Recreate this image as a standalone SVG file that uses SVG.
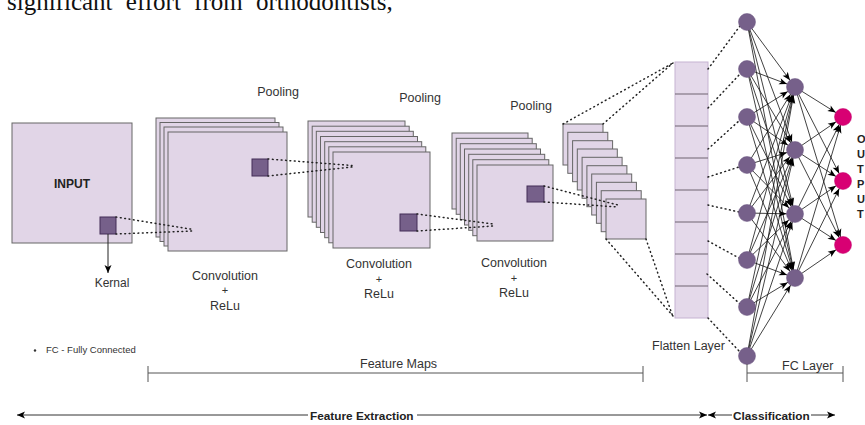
<svg xmlns="http://www.w3.org/2000/svg" width="865" height="425" viewBox="0 0 865 425">
<style>
.map{fill:#e1d5e7;stroke:#666;stroke-width:1}
.ker{fill:#76608a;stroke:#432d57;stroke-width:1}
.dot{fill:none;stroke:#222;stroke-width:1.5;stroke-dasharray:0.8 3.6;stroke-linecap:round}
.fc{fill:none;stroke:#111;stroke-width:0.8}
.nd{fill:#76608a;stroke:#6a5580;stroke-width:0.5}
.out{fill:#d80073;stroke:#c0006a;stroke-width:0.5}
.lbl{font-family:"Liberation Sans",Arial,sans-serif;fill:#333}
.bold{font-family:"Liberation Sans",Arial,sans-serif;font-weight:bold;fill:#222}
.brk{fill:none;stroke:#555;stroke-width:1}
</style>
<defs>
<marker id="fcArrow" markerUnits="userSpaceOnUse" viewBox="-20 -5 20 10" refX="0" refY="0" markerWidth="20" markerHeight="10" orient="auto">
<path d="M-16.5,-3.2 L-8.5,0 L-16.5,3.2 L-14.5,0 z" fill="#000"/>
</marker>
<marker id="arr" markerUnits="userSpaceOnUse" viewBox="-9 -5 10 10" refX="0" refY="0" markerWidth="10" markerHeight="10" orient="auto">
<path d="M-8,-3.5 L0,0 L-8,3.5 L-6,0 z" fill="#000"/>
</marker>
<marker id="arrS" markerUnits="userSpaceOnUse" viewBox="-1 -5 10 10" refX="0" refY="0" markerWidth="10" markerHeight="10" orient="auto">
<path d="M8,-3.5 L0,0 L8,3.5 L6,0 z" fill="#000"/>
</marker>
</defs>
<rect width="865" height="425" fill="#fff"/>
<text x="7" y="9.5" font-family="'Liberation Serif','Times New Roman',serif" font-size="25" fill="#111" word-spacing="7">significant effort from orthodontists,</text>

<g id="input">
<rect class="map" x="12" y="123" width="120" height="120"/>
<text class="bold" x="72" y="187.5" font-size="12" text-anchor="middle">INPUT</text>
<rect class="ker" x="100" y="217" width="16" height="17"/>
</g>
<g id="kernel-label">
<text class="lbl" x="112" y="287" font-size="12" text-anchor="middle">Kernal</text>
</g>

<g id="conv1">
<rect class="map" x="156" y="118" width="119" height="119"/>
<rect class="map" x="160" y="122.5" width="119" height="119"/>
<rect class="map" x="164" y="127" width="119" height="119"/>
<rect class="map" x="168" y="132" width="119" height="119"/>
<rect class="ker" x="252" y="159" width="16" height="17"/>
<text class="lbl" x="225" y="279.5" font-size="12.5" text-anchor="middle">Convolution</text>
<text class="lbl" x="225" y="294" font-size="11" text-anchor="middle">+</text>
<text class="lbl" x="225" y="309.5" font-size="12.5" text-anchor="middle">ReLu</text>
<text class="lbl" x="278" y="96" font-size="12.5" text-anchor="middle">Pooling</text>
</g>

<g id="conv2">
<rect class="map" x="308" y="121" width="97" height="96"/>
<rect class="map" x="312.2" y="126.2" width="97" height="96"/>
<rect class="map" x="316.3" y="131.3" width="97" height="96"/>
<rect class="map" x="320.5" y="136.5" width="97" height="96"/>
<rect class="map" x="324.7" y="141.7" width="97" height="96"/>
<rect class="map" x="328.8" y="146.8" width="97" height="96"/>
<rect class="map" x="333" y="152" width="97" height="96"/>
<rect class="ker" x="400" y="214" width="17" height="17"/>
<text class="lbl" x="379" y="268" font-size="12.5" text-anchor="middle">Convolution</text>
<text class="lbl" x="379" y="283" font-size="11" text-anchor="middle">+</text>
<text class="lbl" x="379" y="298" font-size="12.5" text-anchor="middle">ReLu</text>
<text class="lbl" x="420" y="102" font-size="12.5" text-anchor="middle">Pooling</text>
</g>

<g id="conv3">
<rect class="map" x="452" y="133" width="76" height="76"/>
<rect class="map" x="456.2" y="138.3" width="76" height="76"/>
<rect class="map" x="460.3" y="143.7" width="76" height="76"/>
<rect class="map" x="464.5" y="149" width="76" height="76"/>
<rect class="map" x="468.7" y="154.3" width="76" height="76"/>
<rect class="map" x="472.8" y="159.7" width="76" height="76"/>
<rect class="map" x="477" y="165" width="76" height="76"/>
<rect class="ker" x="527" y="186" width="17" height="16"/>
<text class="lbl" x="514" y="267" font-size="12.5" text-anchor="middle">Convolution</text>
<text class="lbl" x="514" y="282" font-size="11" text-anchor="middle">+</text>
<text class="lbl" x="514" y="297" font-size="12.5" text-anchor="middle">ReLu</text>
<text class="lbl" x="531" y="110" font-size="12.5" text-anchor="middle">Pooling</text>
</g>

<g id="pool">
<rect class="map" x="563" y="124" width="40" height="41"/>
<rect class="map" x="567.8" y="132.3" width="40" height="41"/>
<rect class="map" x="572.6" y="140.7" width="40" height="41"/>
<rect class="map" x="577.3" y="149" width="40" height="41"/>
<rect class="map" x="582.1" y="157.3" width="40" height="41"/>
<rect class="map" x="586.9" y="165.7" width="40" height="41"/>
<rect class="map" x="591.7" y="174" width="40" height="41"/>
<rect class="map" x="596.4" y="182.3" width="40" height="41"/>
<rect class="map" x="601.2" y="190.7" width="40" height="41"/>
<rect class="map" x="606" y="199" width="40" height="40"/>
</g>

<g id="flatten">
<rect x="675" y="62" width="33" height="256" fill="#e4d9ea" stroke="#c6b3d2" stroke-width="1"/>
<path d="M675,94H708M675,126H708M675,158H708M675,190H708M675,222H708M675,254H708M675,286H708" stroke="#6e6470" stroke-width="1.2"/>
<text class="lbl" x="652" y="350" font-size="12.5">Flatten Layer</text>
</g>

<g id="connectors">
<path class="dot" d="M116,217L193,229.5M116,234L193,231"/>
<path class="dot" d="M268,159L352,165.5M268,176L352,167"/>
<path class="dot" d="M417,214L493,224M417,231L493,226"/>
<path class="dot" d="M544,186L618,205M544,202L618,207"/>
<path class="dot" d="M563,124L673,63M603,124L673,63"/>
<path class="dot" d="M606,239L673,316M646,239L673,317"/>
<path class="dot" d="M708,69L740,26M708,108L740,74M708,149L740,120M708,177L739,167M708,205L739,212M708,241L739,258M707,274L740,304M708,318L740,352"/>
<line x1="108" y1="234" x2="108" y2="273" stroke="#222" stroke-width="1" marker-end="url(#arr)"/>
<g class="fc" marker-end="url(#fcArrow)">
<line x1="747" y1="22" x2="795" y2="87"/><line x1="747" y1="22" x2="795" y2="150"/><line x1="747" y1="22" x2="795" y2="214"/><line x1="747" y1="22" x2="795" y2="278"/>
<line x1="747" y1="69" x2="795" y2="87"/><line x1="747" y1="69" x2="795" y2="150"/><line x1="747" y1="69" x2="795" y2="214"/><line x1="747" y1="69" x2="795" y2="278"/>
<line x1="747" y1="117" x2="795" y2="87"/><line x1="747" y1="117" x2="795" y2="150"/><line x1="747" y1="117" x2="795" y2="214"/><line x1="747" y1="117" x2="795" y2="278"/>
<line x1="747" y1="165" x2="795" y2="87"/><line x1="747" y1="165" x2="795" y2="150"/><line x1="747" y1="165" x2="795" y2="214"/><line x1="747" y1="165" x2="795" y2="278"/>
<line x1="747" y1="213" x2="795" y2="87"/><line x1="747" y1="213" x2="795" y2="150"/><line x1="747" y1="213" x2="795" y2="214"/><line x1="747" y1="213" x2="795" y2="278"/>
<line x1="747" y1="260" x2="795" y2="87"/><line x1="747" y1="260" x2="795" y2="150"/><line x1="747" y1="260" x2="795" y2="214"/><line x1="747" y1="260" x2="795" y2="278"/>
<line x1="747" y1="307" x2="795" y2="87"/><line x1="747" y1="307" x2="795" y2="150"/><line x1="747" y1="307" x2="795" y2="214"/><line x1="747" y1="307" x2="795" y2="278"/>
<line x1="747" y1="356" x2="795" y2="87"/><line x1="747" y1="356" x2="795" y2="150"/><line x1="747" y1="356" x2="795" y2="214"/><line x1="747" y1="356" x2="795" y2="278"/>
<line x1="795" y1="87" x2="843" y2="117"/><line x1="795" y1="87" x2="843" y2="181"/><line x1="795" y1="87" x2="843" y2="245"/>
<line x1="795" y1="150" x2="843" y2="117"/><line x1="795" y1="150" x2="843" y2="181"/><line x1="795" y1="150" x2="843" y2="245"/>
<line x1="795" y1="214" x2="843" y2="117"/><line x1="795" y1="214" x2="843" y2="181"/><line x1="795" y1="214" x2="843" y2="245"/>
<line x1="795" y1="278" x2="843" y2="117"/><line x1="795" y1="278" x2="843" y2="181"/><line x1="795" y1="278" x2="843" y2="245"/>
</g>
</g>

<g id="fc-input">
<circle class="nd" cx="747" cy="22" r="8.5"/><circle class="nd" cx="747" cy="69" r="8.5"/>
<circle class="nd" cx="747" cy="117" r="8.5"/><circle class="nd" cx="747" cy="165" r="8.5"/>
<circle class="nd" cx="747" cy="213" r="8.5"/><circle class="nd" cx="747" cy="260" r="8.5"/>
<circle class="nd" cx="747" cy="307" r="8.5"/><circle class="nd" cx="747" cy="356" r="8.5"/>
</g>
<g id="fc-hidden">
<circle class="nd" cx="795" cy="87" r="8.5"/><circle class="nd" cx="795" cy="150" r="8.5"/>
<circle class="nd" cx="795" cy="214" r="8.5"/><circle class="nd" cx="795" cy="278" r="8.5"/>
</g>
<g id="fc-output">
<circle class="out" cx="843" cy="117" r="8.5"/><circle class="out" cx="843" cy="181" r="8.5"/>
<circle class="out" cx="843" cy="245" r="8.5"/>
<text class="bold" font-size="11">
<tspan x="857" y="143">O</tspan><tspan x="857" y="158">U</tspan><tspan x="857" y="173">T</tspan><tspan x="857" y="188">P</tspan><tspan x="857" y="203">U</tspan><tspan x="857" y="218">T</tspan>
</text>
</g>

<g id="legend">
<circle cx="35" cy="350.5" r="1.2" fill="#333"/>
<text class="lbl" x="46" y="353" font-size="9.5">FC - Fully Connected</text>
</g>

<g id="feature-maps">
<path class="brk" d="M148,366V382M148,373H643M643,366V382"/>
<text class="lbl" x="360" y="368" font-size="12.5">Feature Maps</text>
</g>
<g id="fc-layer">
<path class="brk" d="M747,364V382M747,373H843M843,366V382"/>
<text class="lbl" x="782" y="370" font-size="12.5">FC Layer</text>
</g>
<g id="feature-extraction">
<line x1="17" y1="415" x2="308" y2="415" stroke="#333" stroke-width="1" marker-start="url(#arrS)"/>
<line x1="417" y1="415" x2="707" y2="415" stroke="#333" stroke-width="1" marker-end="url(#arr)"/>
<text class="bold" x="310" y="420" font-size="11.8">Feature Extraction</text>
</g>
<g id="classification">
<line x1="708" y1="415" x2="732" y2="415" stroke="#333" stroke-width="1" marker-start="url(#arrS)"/>
<line x1="811" y1="415" x2="835" y2="415" stroke="#333" stroke-width="1" marker-end="url(#arr)"/>
<text class="bold" x="733" y="419.5" font-size="11.8">Classification</text>
</g>
</svg>
